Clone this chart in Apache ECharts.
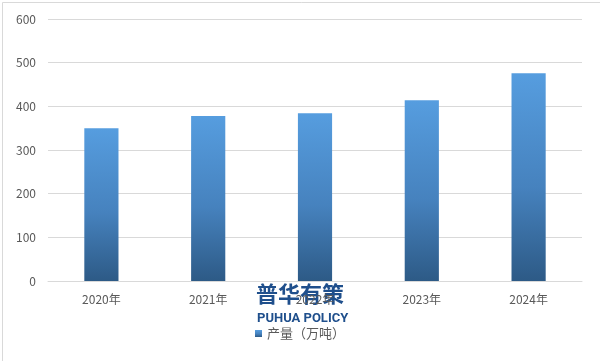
<!DOCTYPE html>
<html><head><meta charset="utf-8">
<script src="https://cdn.jsdelivr.net/npm/echarts@6/dist/echarts.min.js"></script>
<style>html,body{margin:0;padding:0;background:#fff}#c{width:600px;height:361px}</style>
</head><body><div id="c"></div>
<script>
var categories = ['2020年','2021年','2022年','2023年','2024年'];
var output = [350, 378, 384, 414, 476];
var seriesName = '产量（万吨）';
var chart = echarts.init(document.getElementById('c'));
chart.setOption({
  animation: false,
  backgroundColor: '#fff',
  textStyle: {fontFamily: '"Noto Sans CJK SC", sans-serif'},
  grid: {left: 48, right: 18, top: 19, bottom: 80},
  xAxis: {
    type: 'category', data: categories,
    axisLine: {lineStyle: {color: '#d9d9d9'}},
    axisTick: {show: false},
    axisLabel: {color: '#595959', fontSize: 12, margin: 12}
  },
  yAxis: {
    type: 'value', min: 0, max: 600, interval: 100,
    axisLine: {show: false}, axisTick: {show: false},
    splitLine: {lineStyle: {color: '#d9d9d9'}},
    axisLabel: {color: '#595959', fontSize: 12, margin: 12}
  },
  legend: {
    bottom: 16, left: 'center', itemWidth: 7, itemHeight: 7, itemGap: 4,
    textStyle: {color: '#595959', fontSize: 13},
    data: [{name: seriesName, icon: 'rect'}]
  },
  series: [{
    name: seriesName, type: 'bar', data: output, barWidth: '32%',
    itemStyle: {color: new echarts.graphic.LinearGradient(0,0,0,1,[
      {offset: 0, color: '#569ddf'}, {offset: 0.55, color: '#4682be'}, {offset: 1, color: '#2d5a86'}])}
  }],
  graphic: [
    {type: 'rect', left: 0, top: 0, shape: {width: 599, height: 360}, style: {fill: 'none', stroke: '#d9d9d9', lineWidth: 1}, silent: true},
    {type: 'text', left: 256, top: 283, style: {text: '普华有策', fill: '#1f4f8c', font: 'bold 22px "Noto Sans CJK SC"'}},
    {type: 'text', left: 257, top: 312, style: {text: 'PUHUA POLICY', fill: '#1f4f8c', font: 'bold 13px "Roboto"'}}
  ]
});
</script></body></html>
